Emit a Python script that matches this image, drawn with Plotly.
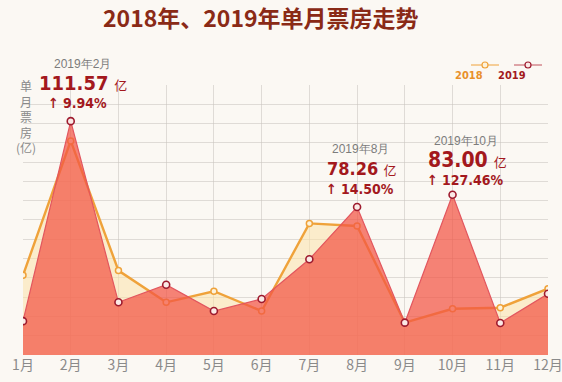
import plotly.graph_objects as go

months = ["1月", "2月", "3月", "4月", "5月", "6月", "7月", "8月", "9月", "10月", "11月", "12月"]
box_2018 = [51.8, 103.9, 53.6, 41.3, 45.6, 37.9, 71.9, 70.9, 33.4, 38.8, 39.2, 46.6]
box_2019 = [34.0, 111.57, 41.3, 48.1, 37.9, 42.6, 58.0, 78.26, 33.4, 83.00, 33.3, 44.6]

callout_months = ["2月", "8月", "10月"]
callout_titles = ["2019年2月", "2019年8月", "2019年10月"]
callout_values = ["111.57", "78.26", "83.00"]
callout_growth = ["9.94%", "14.50%", "127.46%"]

BG = "#FBF8F3"
C18_LINE = "#EFA23A"
C18_FILL = "rgba(252,226,170,0.55)"
C19_LINE = "#E2565E"
C19_FILL = "rgba(242,84,68,0.72)"
C19_MARK = "#9E1B2E"
DARKRED = "#A3181D"
NARROW = "DejaVu Sans Condensed, Liberation Sans Narrow, sans-serif"

fig = go.Figure()
fig.add_trace(go.Scatter(
    x=months, y=box_2018, name="2018", mode="lines+markers",
    fill="tozeroy", fillcolor=C18_FILL,
    line=dict(color=C18_LINE, width=2.4),
    marker=dict(symbol="circle", size=6, color="#FDF3DC", line=dict(color=C18_LINE, width=1.5)),
    showlegend=False, hoverinfo="x+y"))
fig.add_trace(go.Scatter(
    x=months, y=box_2019, name="2019", mode="lines+markers",
    fill="tozeroy", fillcolor=C19_FILL,
    line=dict(color=C19_LINE, width=1.2),
    marker=dict(symbol="circle", size=7, color="#FBE9E6", line=dict(color=C19_MARK, width=1.6)),
    showlegend=False, hoverinfo="x+y"))

# plot area: left 23px, right 548px, top 85px, bottom 355px
PL, PR, PT, PB = 23, 548, 85, 355
def py(px):
    return (PB - px) / (PB - PT)
def pxp(px):
    return (px - PL) / (PR - PL)

ann = []
title_y = [64, 149, 141]
val_y = [83, 168, 160]
gr_y = [103, 189, 180]
val_size = [20, 18, 21]
xshift_t = [12, 3, 13]
xshift_v = [12, 4, 15]
xshift_g = [7, 3, 13]
for i, m in enumerate(callout_months):
    ann.append(dict(x=m, xref="x", y=py(title_y[i]), yref="paper", xshift=xshift_t[i], yanchor="middle",
                    text=callout_titles[i], showarrow=False,
                    font=dict(family="Liberation Sans, Arial, sans-serif", size=12, color="#7C7C7C")))
    ann.append(dict(x=m, xref="x", y=py(val_y[i]), yref="paper", xshift=xshift_v[i], yanchor="middle",
                    text="<b>%s</b> <span style='font-size:13px;font-family:Noto Sans CJK SC'>亿</span>" % callout_values[i],
                    showarrow=False,
                    font=dict(family=NARROW, size=val_size[i], color=DARKRED)))
    ann.append(dict(x=m, xref="x", y=py(gr_y[i]), yref="paper", xshift=xshift_g[i], yanchor="middle",
                    text="<b>↑ %s</b>" % callout_growth[i], showarrow=False,
                    font=dict(family=NARROW, size=14, color=DARKRED)))

# title
ann.append(dict(x=pxp(261), xref="paper", y=py(17), yref="paper", text="<b>2018年、2019年单月票房走势</b>",
                showarrow=False, yanchor="middle",
                font=dict(family="Noto Sans CJK SC, sans-serif", size=23, color="#8A2A16")))
# y axis label
ann.append(dict(x=pxp(14), xref="paper", y=py(117), yref="paper", yanchor="middle",
                text="单<br>月<br>票<br>房<br>(亿)", showarrow=False, align="center",
                font=dict(family="Noto Sans CJK SC, sans-serif", size=12, color="#8A8A8A")))

# custom legend (symbol above text)
shapes = []
leg = [("2018", C18_LINE, "#FDF3DC", 485), ("2019", C19_MARK, "#FBE9E6", 528)]
for name, col, fillc, cx in leg:
    lc = C18_LINE if name == "2018" else "#C0505A"
    shapes.append(dict(type="line", xref="paper", yref="paper",
                       x0=pxp(cx - 14), x1=pxp(cx + 14), y0=py(65), y1=py(65),
                       line=dict(color=lc, width=1)))
    shapes.append(dict(type="circle", xref="paper", yref="paper",
                       x0=pxp(cx - 3), x1=pxp(cx + 3), y0=py(68), y1=py(62),
                       fillcolor=fillc, line=dict(color=col, width=1.2)))
    tcol = "#E8902A" if name == "2018" else "#A3181D"
    ann.append(dict(x=pxp(cx), xref="paper", y=py(76), yref="paper", yanchor="middle", text="<b>%s</b>" % name,
                    showarrow=False, font=dict(family=NARROW, size=11, color=tcol)))

y0v = 20.86
dt = 7.486
fig.update_layout(
    width=562, height=382,
    margin=dict(l=PL, r=562 - PR, t=PT, b=382 - PB, autoexpand=False),
    paper_bgcolor=BG, plot_bgcolor=BG,
    annotations=ann, shapes=shapes,
    xaxis=dict(type="category", range=[0, 11], showgrid=True, gridcolor="rgba(200,195,190,0.55)", gridwidth=1,
               zeroline=False, showline=False, ticks="", automargin=False,
               tickfont=dict(family="Noto Sans CJK SC, sans-serif", size=14, color="#8A8A8A")),
    yaxis=dict(range=[y0v, y0v + (PB - PT) / 2.578], tick0=y0v, dtick=dt, automargin=False,
               showgrid=True, gridcolor="rgba(200,195,190,0.55)", gridwidth=1,
               zeroline=False, showline=False, showticklabels=False, ticks=""),
    showlegend=False,
)
fig.write_html("out.html", config={"displayModeBar": False},
               post_script="document.body.style.margin='0';document.body.style.background='%s';" % BG)
